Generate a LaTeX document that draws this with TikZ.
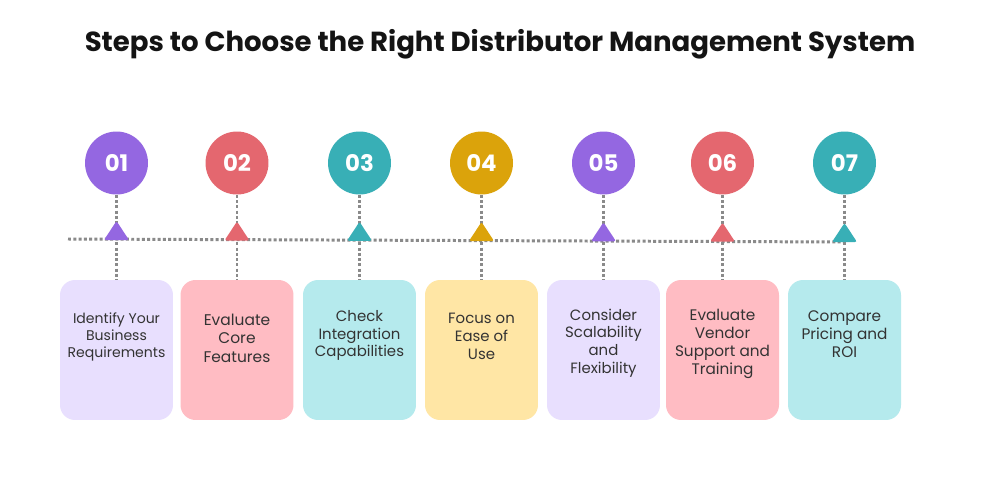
\documentclass[tikz,border=0pt]{standalone}
\usepackage{fontspec}
\setmainfont{Poppins}
\definecolor{cpur}{HTML}{9467E1}
\definecolor{cred}{HTML}{E4676F}
\definecolor{cteal}{HTML}{38AFB6}
\definecolor{cgold}{HTML}{DBA30B}
\definecolor{fpur}{HTML}{E8DFFE}
\definecolor{fred}{HTML}{FFBCC3}
\definecolor{fteal}{HTML}{B5EAED}
\definecolor{fgold}{HTML}{FFE6A5}
\definecolor{dotgray}{HTML}{8A8A8A}
\definecolor{txt}{HTML}{333333}
\begin{document}
\begin{tikzpicture}[x=0.02cm,y=-0.02cm,
  numcirc/.style={circle,minimum size=1.26cm,inner sep=0pt,text=white,font=\fontsize{13}{14}\selectfont\bfseries},
  stepbox/.style={rounded corners=0.3cm,minimum width=2.26cm,minimum height=2.8cm,inner sep=0pt},
  boxtext/.style={align=center,text=txt},
  dotline/.style={draw=dotgray,line width=1.7pt,dash pattern=on 1.7pt off 1.3pt},
  tri/.style={rounded corners=1.2pt}]
\useasboundingbox[fill=white] (0,0) rectangle (1000,500);
\node[font=\fontsize{15.7}{18}\selectfont\bfseries,text=black!92] (title) at (500,44) {Steps to Choose the Right Distributor Management System};
\coordinate (hl) at (68,239);
\coordinate (hr) at (845,242);
\draw[dotline] (hl) -- (hr);
\foreach \i/\x/\c/\f in {
  1/116.5/cpur/fpur,
  2/237/cred/fred,
  3/359.5/cteal/fteal,
  4/481.5/cgold/fgold,
  5/603.5/cpur/fpur,
  6/722.5/cred/fred,
  7/844.5/cteal/fteal}{
  \node[numcirc,fill=\c] (c\i) at (\x,163) {0\i};
  \node[stepbox,fill=\f] (b\i) at (\x,350) {};
  \draw[dotline] (c\i.south) -- (b\i.north);
}
\foreach \i/\t/\yy/\fs/\ls in {
  1/{Identify Your\\Business\\Requirements}/0.26/8/9.6,
  2/{Evaluate\\Core\\Features}/0.24/8.8/10.5,
  3/{Check\\Integration\\Capabilities}/0.29/8.5/10,
  4/{Focus on\\Ease of\\Use}/0.28/8.5/10.2,
  5/{Consider\\Scalability\\and\\Flexibility}/0.14/8.5/10,
  6/{Evaluate\\Vendor\\Support and\\Training}/0.12/8.7/10.2,
  7/{Compare\\Pricing and\\ROI}/0.32/8.7/10.2}{
  \node[boxtext,font=\fontsize{\fs}{\ls}\selectfont] (t\i) at ([yshift=\yy cm]b\i.center) {\t};
}
\foreach \i/\c/\yb in {1/cpur/240,2/cred/240.5,3/cteal/240.8,4/cgold/241,5/cpur/241.3,6/cred/241.6,7/cteal/242}{
  \path (c\i.south |- 0,\yb) coordinate (m\i);
  \fill[\c,tri] ([xshift=-0.25cm]m\i) -- ([yshift=0.38cm]m\i) -- ([xshift=0.25cm]m\i) -- cycle;
}
\end{tikzpicture}
\end{document}
